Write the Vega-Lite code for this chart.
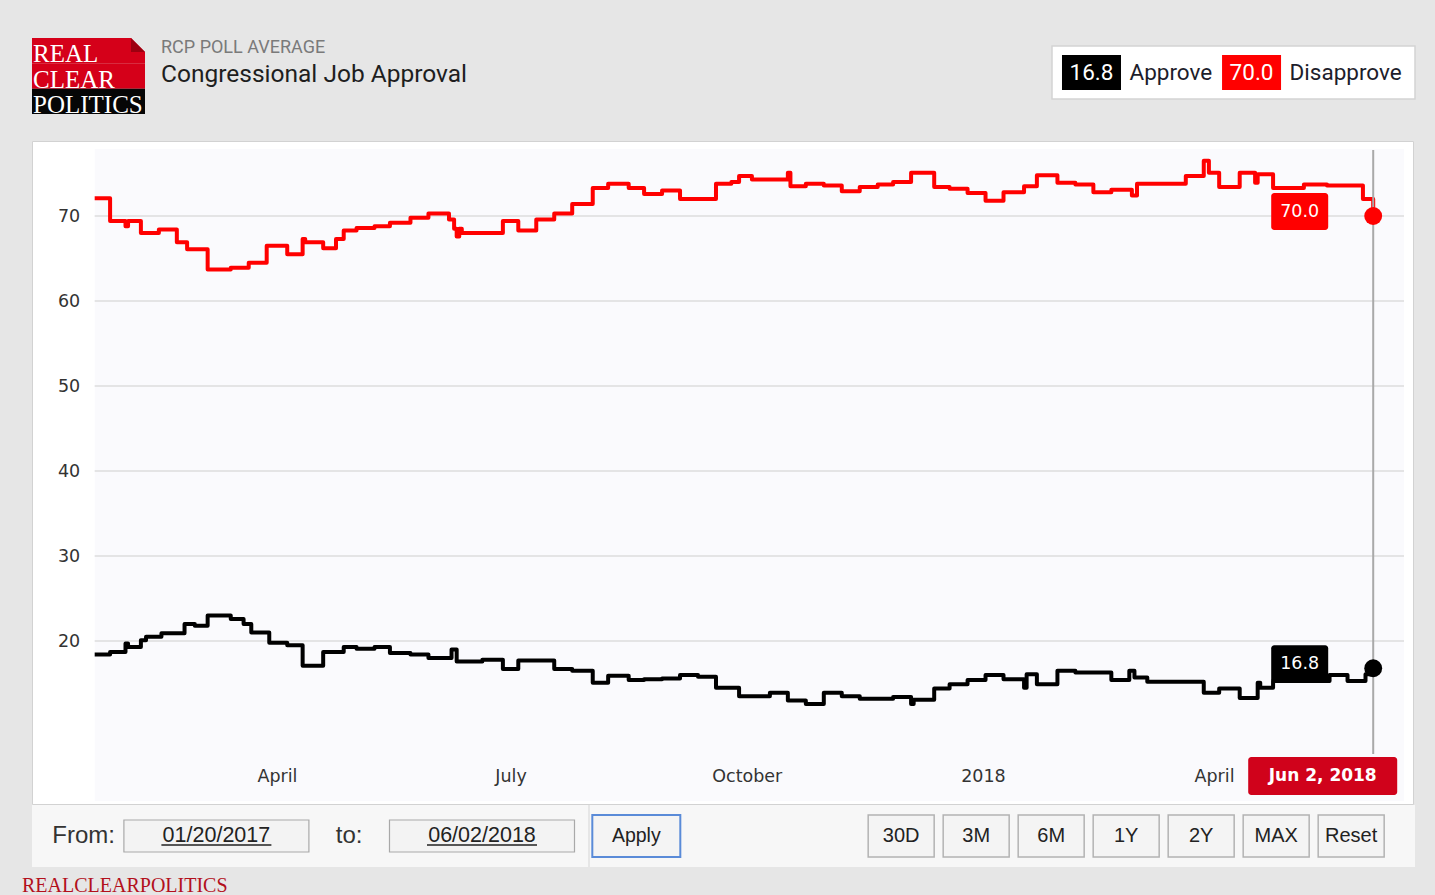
{
  "$schema": "https://vega.github.io/schema/vega-lite/v6.json",
  "background": "#e6e6e6",
  "padding": {"left": 22, "top": 37, "right": 20, "bottom": 2},
  "config": {"view": {"stroke": null}},
  "datasets": {
    "latest": [
      {"date": "2018-06-02", "series": "Approve", "value": 16.8},
      {"date": "2018-06-02", "series": "Disapprove", "value": 70.0}
    ],
    "polls": [
      {"date": "2017-01-20", "series": "Disapprove", "value": 72.1},
      {"date": "2017-01-26", "series": "Disapprove", "value": 69.4},
      {"date": "2017-02-01", "series": "Disapprove", "value": 68.8},
      {"date": "2017-02-02", "series": "Disapprove", "value": 69.4},
      {"date": "2017-02-07", "series": "Disapprove", "value": 68.0},
      {"date": "2017-02-14", "series": "Disapprove", "value": 68.4},
      {"date": "2017-02-21", "series": "Disapprove", "value": 66.9},
      {"date": "2017-02-25", "series": "Disapprove", "value": 66.1},
      {"date": "2017-03-05", "series": "Disapprove", "value": 63.7},
      {"date": "2017-03-14", "series": "Disapprove", "value": 63.9},
      {"date": "2017-03-21", "series": "Disapprove", "value": 64.5},
      {"date": "2017-03-28", "series": "Disapprove", "value": 66.5},
      {"date": "2017-04-05", "series": "Disapprove", "value": 65.5},
      {"date": "2017-04-11", "series": "Disapprove", "value": 67.3},
      {"date": "2017-04-12", "series": "Disapprove", "value": 66.9},
      {"date": "2017-04-19", "series": "Disapprove", "value": 66.2},
      {"date": "2017-04-24", "series": "Disapprove", "value": 67.3},
      {"date": "2017-04-27", "series": "Disapprove", "value": 68.3},
      {"date": "2017-05-02", "series": "Disapprove", "value": 68.6},
      {"date": "2017-05-09", "series": "Disapprove", "value": 68.8},
      {"date": "2017-05-15", "series": "Disapprove", "value": 69.2},
      {"date": "2017-05-23", "series": "Disapprove", "value": 69.8},
      {"date": "2017-05-30", "series": "Disapprove", "value": 70.3},
      {"date": "2017-06-07", "series": "Disapprove", "value": 69.6},
      {"date": "2017-06-09", "series": "Disapprove", "value": 68.5},
      {"date": "2017-06-10", "series": "Disapprove", "value": 67.6},
      {"date": "2017-06-11", "series": "Disapprove", "value": 68.5},
      {"date": "2017-06-12", "series": "Disapprove", "value": 68.0},
      {"date": "2017-06-28", "series": "Disapprove", "value": 69.4},
      {"date": "2017-07-04", "series": "Disapprove", "value": 68.3},
      {"date": "2017-07-11", "series": "Disapprove", "value": 69.6},
      {"date": "2017-07-18", "series": "Disapprove", "value": 70.3},
      {"date": "2017-07-25", "series": "Disapprove", "value": 71.4},
      {"date": "2017-08-02", "series": "Disapprove", "value": 73.3},
      {"date": "2017-08-08", "series": "Disapprove", "value": 73.8},
      {"date": "2017-08-16", "series": "Disapprove", "value": 73.3},
      {"date": "2017-08-22", "series": "Disapprove", "value": 72.6},
      {"date": "2017-08-29", "series": "Disapprove", "value": 73.0},
      {"date": "2017-09-05", "series": "Disapprove", "value": 72.0},
      {"date": "2017-09-19", "series": "Disapprove", "value": 73.8},
      {"date": "2017-09-25", "series": "Disapprove", "value": 74.0},
      {"date": "2017-09-28", "series": "Disapprove", "value": 74.7},
      {"date": "2017-10-03", "series": "Disapprove", "value": 74.3},
      {"date": "2017-10-17", "series": "Disapprove", "value": 75.1},
      {"date": "2017-10-18", "series": "Disapprove", "value": 73.5},
      {"date": "2017-10-24", "series": "Disapprove", "value": 73.8},
      {"date": "2017-10-31", "series": "Disapprove", "value": 73.6},
      {"date": "2017-11-07", "series": "Disapprove", "value": 72.9},
      {"date": "2017-11-14", "series": "Disapprove", "value": 73.4},
      {"date": "2017-11-21", "series": "Disapprove", "value": 73.7},
      {"date": "2017-11-27", "series": "Disapprove", "value": 74.0},
      {"date": "2017-12-04", "series": "Disapprove", "value": 75.1},
      {"date": "2017-12-13", "series": "Disapprove", "value": 73.4},
      {"date": "2017-12-19", "series": "Disapprove", "value": 73.2},
      {"date": "2017-12-26", "series": "Disapprove", "value": 72.7},
      {"date": "2018-01-02", "series": "Disapprove", "value": 71.8},
      {"date": "2018-01-09", "series": "Disapprove", "value": 72.8},
      {"date": "2018-01-17", "series": "Disapprove", "value": 73.5},
      {"date": "2018-01-22", "series": "Disapprove", "value": 74.8},
      {"date": "2018-01-30", "series": "Disapprove", "value": 73.9},
      {"date": "2018-02-06", "series": "Disapprove", "value": 73.7},
      {"date": "2018-02-13", "series": "Disapprove", "value": 72.8},
      {"date": "2018-02-20", "series": "Disapprove", "value": 73.1},
      {"date": "2018-02-28", "series": "Disapprove", "value": 72.4},
      {"date": "2018-03-02", "series": "Disapprove", "value": 73.8},
      {"date": "2018-03-21", "series": "Disapprove", "value": 74.7},
      {"date": "2018-03-28", "series": "Disapprove", "value": 76.5},
      {"date": "2018-03-30", "series": "Disapprove", "value": 75.1},
      {"date": "2018-04-03", "series": "Disapprove", "value": 73.4},
      {"date": "2018-04-11", "series": "Disapprove", "value": 75.1},
      {"date": "2018-04-17", "series": "Disapprove", "value": 73.9},
      {"date": "2018-04-18", "series": "Disapprove", "value": 74.9},
      {"date": "2018-04-24", "series": "Disapprove", "value": 73.3},
      {"date": "2018-05-06", "series": "Disapprove", "value": 73.7},
      {"date": "2018-05-15", "series": "Disapprove", "value": 73.6},
      {"date": "2018-05-29", "series": "Disapprove", "value": 72.0},
      {"date": "2018-06-02", "series": "Disapprove", "value": 70.0},
      {"date": "2017-01-20", "series": "Approve", "value": 18.4},
      {"date": "2017-01-26", "series": "Approve", "value": 18.7},
      {"date": "2017-02-01", "series": "Approve", "value": 19.7},
      {"date": "2017-02-02", "series": "Approve", "value": 19.3},
      {"date": "2017-02-07", "series": "Approve", "value": 20.1},
      {"date": "2017-02-09", "series": "Approve", "value": 20.5},
      {"date": "2017-02-15", "series": "Approve", "value": 20.9},
      {"date": "2017-02-24", "series": "Approve", "value": 22.0},
      {"date": "2017-02-28", "series": "Approve", "value": 21.8},
      {"date": "2017-03-05", "series": "Approve", "value": 23.0},
      {"date": "2017-03-14", "series": "Approve", "value": 22.6},
      {"date": "2017-03-19", "series": "Approve", "value": 22.0},
      {"date": "2017-03-22", "series": "Approve", "value": 21.0},
      {"date": "2017-03-29", "series": "Approve", "value": 19.8},
      {"date": "2017-04-05", "series": "Approve", "value": 19.5},
      {"date": "2017-04-11", "series": "Approve", "value": 17.1},
      {"date": "2017-04-19", "series": "Approve", "value": 18.7},
      {"date": "2017-04-27", "series": "Approve", "value": 19.3},
      {"date": "2017-05-02", "series": "Approve", "value": 19.1},
      {"date": "2017-05-09", "series": "Approve", "value": 19.3},
      {"date": "2017-05-15", "series": "Approve", "value": 18.6},
      {"date": "2017-05-23", "series": "Approve", "value": 18.4},
      {"date": "2017-05-30", "series": "Approve", "value": 18.0},
      {"date": "2017-06-08", "series": "Approve", "value": 19.0},
      {"date": "2017-06-10", "series": "Approve", "value": 17.6},
      {"date": "2017-06-20", "series": "Approve", "value": 17.8},
      {"date": "2017-06-28", "series": "Approve", "value": 16.7},
      {"date": "2017-07-04", "series": "Approve", "value": 17.7},
      {"date": "2017-07-18", "series": "Approve", "value": 16.7},
      {"date": "2017-07-25", "series": "Approve", "value": 16.5},
      {"date": "2017-08-02", "series": "Approve", "value": 15.1},
      {"date": "2017-08-08", "series": "Approve", "value": 15.9},
      {"date": "2017-08-16", "series": "Approve", "value": 15.4},
      {"date": "2017-08-22", "series": "Approve", "value": 15.5},
      {"date": "2017-08-29", "series": "Approve", "value": 15.6},
      {"date": "2017-09-05", "series": "Approve", "value": 16.0},
      {"date": "2017-09-12", "series": "Approve", "value": 15.8},
      {"date": "2017-09-19", "series": "Approve", "value": 14.5},
      {"date": "2017-09-28", "series": "Approve", "value": 13.5},
      {"date": "2017-10-10", "series": "Approve", "value": 13.9},
      {"date": "2017-10-17", "series": "Approve", "value": 13.0},
      {"date": "2017-10-24", "series": "Approve", "value": 12.6},
      {"date": "2017-10-31", "series": "Approve", "value": 13.9},
      {"date": "2017-11-07", "series": "Approve", "value": 13.5},
      {"date": "2017-11-14", "series": "Approve", "value": 13.2},
      {"date": "2017-11-27", "series": "Approve", "value": 13.4},
      {"date": "2017-12-04", "series": "Approve", "value": 12.6},
      {"date": "2017-12-05", "series": "Approve", "value": 13.1},
      {"date": "2017-12-13", "series": "Approve", "value": 14.4},
      {"date": "2017-12-19", "series": "Approve", "value": 14.9},
      {"date": "2017-12-26", "series": "Approve", "value": 15.4},
      {"date": "2018-01-02", "series": "Approve", "value": 16.0},
      {"date": "2018-01-09", "series": "Approve", "value": 15.5},
      {"date": "2018-01-17", "series": "Approve", "value": 14.5},
      {"date": "2018-01-18", "series": "Approve", "value": 16.1},
      {"date": "2018-01-22", "series": "Approve", "value": 14.9},
      {"date": "2018-01-30", "series": "Approve", "value": 16.5},
      {"date": "2018-02-06", "series": "Approve", "value": 16.3},
      {"date": "2018-02-20", "series": "Approve", "value": 15.4},
      {"date": "2018-02-27", "series": "Approve", "value": 16.5},
      {"date": "2018-03-01", "series": "Approve", "value": 15.7},
      {"date": "2018-03-06", "series": "Approve", "value": 15.2},
      {"date": "2018-03-28", "series": "Approve", "value": 13.9},
      {"date": "2018-04-03", "series": "Approve", "value": 14.4},
      {"date": "2018-04-11", "series": "Approve", "value": 13.3},
      {"date": "2018-04-18", "series": "Approve", "value": 15.1},
      {"date": "2018-04-19", "series": "Approve", "value": 14.5},
      {"date": "2018-04-24", "series": "Approve", "value": 15.3},
      {"date": "2018-05-16", "series": "Approve", "value": 16.0},
      {"date": "2018-05-23", "series": "Approve", "value": 15.3},
      {"date": "2018-05-30", "series": "Approve", "value": 16.1},
      {"date": "2018-06-02", "series": "Approve", "value": 16.8}
    ]
  },
  "resolve": {"scale": {"color": "independent"}, "legend": {"color": "independent"}},
  "spacing": 22,
  "vconcat": [
    {
      "spacing": 16,
      "resolve": {"scale": {"color": "independent"}, "legend": {"color": "independent"}},
      "hconcat": [
        {
          "width": 113,
          "height": 76,
          "view": {"stroke": null},
          "data": {"values": [{"word": "REAL"}, {"word": "CLEAR"}, {"word": "POLITICS"}]},
          "layer": [
            {
              "mark": {"type": "rect"},
              "encoding": {
                "y": {"field": "word", "type": "nominal", "scale": {"type": "band", "domain": ["REAL", "CLEAR", "POLITICS"], "paddingInner": 0, "paddingOuter": 0}, "axis": null},
                "x": {"datum": 0, "type": "quantitative", "scale": {"domain": [0, 1]}, "axis": null},
                "x2": {"datum": 1},
                "color": {"field": "word", "type": "nominal", "scale": {"domain": ["REAL", "CLEAR", "POLITICS"], "range": ["#d50019", "#d50019", "#060606"]}, "legend": null}
              }
            },
            {
              "transform": [{"filter": "datum.word == 'REAL'"}],
              "mark": {"type": "point", "shape": "M-14,-12.67H0V1.33Z", "size": 4, "filled": true, "fill": "#e6e6e6", "opacity": 1, "strokeWidth": 0},
              "encoding": {
                "y": {"field": "word", "type": "nominal"},
                "x": {"datum": 1, "type": "quantitative"}
              }
            },
            {
              "transform": [{"filter": "datum.word == 'REAL'"}],
              "mark": {"type": "point", "shape": "M-14,-12.67L0,1.33H-14Z", "size": 4, "filled": true, "fill": "#9c0010", "opacity": 1, "strokeWidth": 0},
              "encoding": {
                "y": {"field": "word", "type": "nominal"},
                "x": {"datum": 1, "type": "quantitative"}
              }
            },
            {
              "mark": {"type": "text", "align": "left", "baseline": "alphabetic", "font": "Liberation Serif", "fontSize": 25, "color": "#ffffff", "dx": 1, "dy": -1},
              "encoding": {
                "y": {"field": "word", "type": "nominal", "bandPosition": 1},
                "x": {"datum": 0, "type": "quantitative"},
                "text": {"field": "word"}
              }
            }
          ]
        },
        {
          "width": 872,
          "height": 1,
          "view": {"stroke": null},
          "data": {"values": [{}]},
          "mark": {"type": "point", "opacity": 0, "size": 0, "strokeWidth": 0},
          "title": {
            "text": "RCP POLL AVERAGE",
            "subtitle": "Congressional Job Approval",
            "orient": "bottom",
            "anchor": "start",
            "font": "Roboto",
            "fontSize": 18,
            "fontWeight": "normal",
            "color": "#7a7a7a",
            "subtitleFont": "Roboto",
            "subtitleFontSize": 24.5,
            "subtitleColor": "#1e1e1e",
            "subtitlePadding": 6,
            "offset": 0
          }
        },
        {
          "width": 363,
          "height": 61,
          "view": {"stroke": null},
          "layer": [
            {
              "data": {"values": [{}]},
              "mark": {"type": "point", "shape": "M-181.5,-22.5H181.5V30.5H-181.5Z", "size": 4, "filled": true, "fill": "#ffffff", "stroke": "#d4d4d4", "strokeWidth": 1.5, "opacity": 1}
            },
            {
              "data": {"name": "latest"},
              "mark": {"type": "point", "shape": "M-29.5,-13.5H29.5V21.5H-29.5Z", "size": 4, "filled": true, "opacity": 1, "strokeWidth": 0},
              "encoding": {
                "x": {"field": "series", "type": "nominal", "scale": {"type": "point", "domain": ["Approve", "Disapprove"], "padding": 0.634, "align": 0.1946}, "axis": null},
                "color": {"field": "series", "type": "nominal", "scale": {"domain": ["Approve", "Disapprove"], "range": ["#000000", "#ff0000"]}, "legend": null}
              }
            },
            {
              "data": {"name": "latest"},
              "mark": {"type": "text", "font": "Roboto", "fontSize": 22.5, "color": "#ffffff", "dy": 4},
              "encoding": {
                "x": {"field": "series", "type": "nominal"},
                "text": {"field": "value", "type": "quantitative", "format": ".1f"}
              }
            },
            {
              "data": {"name": "latest"},
              "mark": {"type": "text", "font": "Roboto", "fontSize": 22.5, "color": "#1d1d2b", "align": "left", "dx": 38, "dy": 4},
              "encoding": {
                "x": {"field": "series", "type": "nominal"},
                "text": {"field": "series"}
              }
            }
          ]
        }
      ]
    },
    {
      "spacing": 0,
      "resolve": {"scale": {"color": "independent"}, "legend": {"color": "independent"}},
      "vconcat": [
        {
          "width": 1381,
          "height": 663,
          "view": {"fill": "#ffffff", "stroke": "#d2d2d2"},
          "layer": [
            {
              "data": {"values": [{}]},
              "mark": {"type": "rect", "fill": "#fafafd"},
              "encoding": {
                "x": {"datum": {"year": 2017, "month": 1, "date": 20}, "type": "temporal"},
                "x2": {"datum": {"year": 2018, "month": 6, "date": 14}},
                "y": {"datum": 77.88, "type": "quantitative"},
                "y2": {"datum": 1.18}
              }
            },
            {
              "data": {"values": [{"g": 20}, {"g": 30}, {"g": 40}, {"g": 50}, {"g": 60}, {"g": 70}]},
              "mark": {"type": "rule", "color": "#dcdcdc", "strokeWidth": 1.5},
              "encoding": {
                "x": {"datum": {"year": 2017, "month": 1, "date": 20}, "type": "temporal"},
                "x2": {"datum": {"year": 2018, "month": 6, "date": 14}},
                "y": {"field": "g", "type": "quantitative"}
              }
            },
            {
              "data": {"name": "polls"},
              "mark": {"type": "line", "interpolate": "step-after", "strokeWidth": 4, "strokeJoin": "round"},
              "encoding": {
                "x": {
                  "field": "date",
                  "type": "temporal",
                  "scale": {"domain": [{"year": 2016, "month": 12, "date": 26, "hours": 14}, {"year": 2018, "month": 6, "date": 17, "hours": 12}]},
                  "axis": {
                    "orient": "bottom",
                    "offset": -28,
                    "values": [
                      {"year": 2017, "month": 4, "date": 1},
                      {"year": 2017, "month": 7, "date": 1},
                      {"year": 2017, "month": 10, "date": 1},
                      {"year": 2018, "month": 1, "date": 1},
                      {"year": 2018, "month": 4, "date": 1}
                    ],
                    "labelExpr": "month(datum.value) == 0 ? timeFormat(datum.value, '%Y') : timeFormat(datum.value, '%B')",
                    "domain": false,
                    "ticks": false,
                    "tickSize": 0,
                    "grid": false,
                    "labelPadding": 0,
                    "labelBaseline": "middle",
                    "labelFont": "DejaVu Sans",
                    "labelFontSize": 17.5,
                    "labelColor": "#333333",
                    "labelOverlap": false,
                    "labelFlush": false,
                    "title": null,
                    "zindex": 1
                  }
                },
                "y": {
                  "field": "value",
                  "type": "quantitative",
                  "scale": {"domain": [0.824, 78.824], "nice": false, "zero": false},
                  "axis": {
                    "orient": "left",
                    "offset": -62.7,
                    "values": [20, 30, 40, 50, 60, 70],
                    "domain": false,
                    "ticks": false,
                    "tickSize": 0,
                    "grid": false,
                    "labelPadding": 15,
                    "labelFont": "DejaVu Sans",
                    "labelFontSize": 17.5,
                    "labelColor": "#333333",
                    "title": null,
                    "zindex": 1
                  }
                },
                "color": {"field": "series", "type": "nominal", "scale": {"domain": ["Approve", "Disapprove"], "range": ["#000000", "#ff0000"]}, "legend": null}
              }
            },
            {
              "data": {"values": [{"date": "2018-06-02", "label": "Jun 2, 2018"}]},
              "layer": [
                {
                  "mark": {"type": "rule", "color": "#a9a9a9", "strokeWidth": 2},
                  "encoding": {
                    "x": {"field": "date", "type": "temporal"},
                    "y": {"datum": 77.76},
                    "y2": {"datum": 6.71}
                  }
                },
                {
                  "mark": {"type": "point", "shape": "M-122,-19H21A3,3 0 0 1 24,-16V16A3,3 0 0 1 21,19H-122A3,3 0 0 1 -125,16V-16A3,3 0 0 1 -122,-19Z", "size": 4, "filled": true, "fill": "#d0021b", "opacity": 1, "strokeWidth": 0},
                  "encoding": {
                    "x": {"field": "date", "type": "temporal"},
                    "y": {"datum": 4.12}
                  }
                },
                {
                  "mark": {"type": "text", "font": "DejaVu Sans", "fontSize": 17, "fontWeight": "bold", "color": "#ffffff", "dx": -50.5},
                  "encoding": {
                    "x": {"field": "date", "type": "temporal"},
                    "y": {"datum": 4.12},
                    "text": {"field": "label"}
                  }
                }
              ]
            },
            {
              "data": {"name": "latest"},
              "layer": [
                {
                  "mark": {"type": "point", "shape": "M-99,-23H-48A3,3 0 0 1 -45,-20V11A3,3 0 0 1 -48,14H-99A3,3 0 0 1 -102,11V-20A3,3 0 0 1 -99,-23Z", "size": 4, "filled": true, "opacity": 1, "strokeWidth": 0},
                  "encoding": {
                    "x": {"field": "date", "type": "temporal"},
                    "y": {"field": "value", "type": "quantitative"},
                    "color": {"field": "series", "type": "nominal", "legend": null}
                  }
                },
                {
                  "mark": {"type": "text", "font": "DejaVu Sans", "fontSize": 17.5, "color": "#ffffff", "dx": -73.5, "dy": -4.5},
                  "encoding": {
                    "x": {"field": "date", "type": "temporal"},
                    "y": {"field": "value", "type": "quantitative"},
                    "text": {"field": "value", "type": "quantitative", "format": ".1f"}
                  }
                },
                {
                  "mark": {"type": "point", "filled": true, "size": 320, "opacity": 1},
                  "encoding": {
                    "x": {"field": "date", "type": "temporal"},
                    "y": {"field": "value", "type": "quantitative"},
                    "color": {"field": "series", "type": "nominal", "legend": null}
                  }
                }
              ]
            }
          ]
        },
        {
          "spacing": 0,
          "hconcat": [
            {
              "width": 556,
              "height": 62,
              "view": {"fill": "#f7f7f7", "stroke": null},
              "title": {"text": "REALCLEARPOLITICS", "orient": "bottom", "anchor": "start", "font": "Liberation Serif", "fontSize": 20, "fontWeight": "normal", "color": "#b3101c", "offset": 9, "dx": -10},
              "data": {"values": [
                {"c": "From:", "kind": "label"},
                {"c": "01/20/2017", "kind": "input"},
                {"c": "to:", "kind": "label"},
                {"c": "06/02/2018", "kind": "input"}
              ]},
              "encoding": {
                "x": {"field": "c", "type": "nominal", "scale": {"type": "point", "domain": ["From:", "01/20/2017", "to:", "06/02/2018"], "padding": 0.5934, "align": 0.3274}, "axis": null}
              },
              "layer": [
                {
                  "transform": [{"filter": "datum.kind == 'input'"}],
                  "mark": {"type": "point", "shape": "M-92.5,-16H92.5V16H-92.5Z", "size": 4, "filled": true, "fill": "#f3f3f3", "stroke": "#a9a9a9", "strokeWidth": 1.2, "opacity": 1}
                },
                {
                  "transform": [{"filter": "datum.kind == 'input'"}],
                  "mark": {"type": "point", "shape": "M-55,9H55", "size": 4, "filled": false, "stroke": "#222222", "strokeWidth": 1.3, "opacity": 1}
                },
                {
                  "transform": [{"filter": "datum.kind == 'label'"}],
                  "mark": {"type": "text", "font": "Liberation Sans", "fontSize": 24, "color": "#333333"},
                  "encoding": {"text": {"field": "c"}}
                },
                {
                  "transform": [{"filter": "datum.kind == 'input'"}],
                  "mark": {"type": "text", "font": "Liberation Sans", "fontSize": 21.5, "color": "#222222"},
                  "encoding": {"text": {"field": "c"}}
                }
              ]
            },
            {
              "width": 225,
              "height": 62,
              "view": {"fill": "#f7f7f7", "stroke": null},
              "data": {"values": [{"c": "Apply"}]},
              "encoding": {
                "x": {"field": "c", "type": "nominal", "scale": {"type": "point", "domain": ["Apply"], "padding": 0.5, "align": 0.2058}, "axis": null}
              },
              "layer": [
                {
                  "mark": {"type": "point", "shape": "M-44,-21H44V21H-44Z", "size": 4, "filled": true, "fill": "#f4f4f4", "stroke": "#5a8bd8", "strokeWidth": 2, "opacity": 1}
                },
                {
                  "mark": {"type": "text", "font": "Liberation Sans", "fontSize": 19.5, "color": "#222222"},
                  "encoding": {"text": {"field": "c"}}
                }
              ]
            },
            {
              "width": 600,
              "height": 62,
              "view": {"fill": "#f7f7f7", "stroke": null},
              "data": {"values": [{"c": "30D"}, {"c": "3M"}, {"c": "6M"}, {"c": "1Y"}, {"c": "2Y"}, {"c": "MAX"}, {"c": "Reset"}]},
              "encoding": {
                "x": {"field": "c", "type": "nominal", "scale": {"type": "point", "domain": ["30D", "3M", "6M", "1Y", "2Y", "MAX", "Reset"], "padding": 1, "align": 0.5745}, "axis": null}
              },
              "layer": [
                {
                  "mark": {"type": "point", "shape": "M-33,-21H33V21H-33Z", "size": 4, "filled": true, "fill": "#f4f4f4", "stroke": "#b3b3b3", "strokeWidth": 1.5, "opacity": 1}
                },
                {
                  "mark": {"type": "text", "font": "Liberation Sans", "fontSize": 20, "color": "#222222"},
                  "encoding": {"text": {"field": "c"}}
                }
              ]
            }
          ]
        }
      ]
    }
  ]
}
